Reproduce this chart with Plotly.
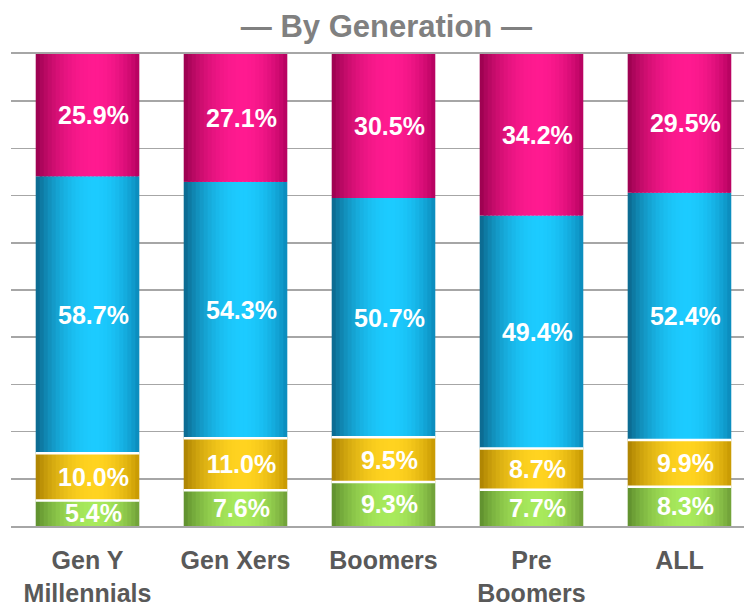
import plotly.graph_objects as go
import numpy as np

categories = ["Gen Y<br>Millennials", "Gen Xers", "Boomers", "Pre<br>Boomers", "ALL"]
green = [5.4, 7.6, 9.3, 7.7, 8.3]
yellow = [10.0, 11.0, 9.5, 8.7, 9.9]
blue = [58.7, 54.3, 50.7, 49.4, 52.4]
magenta = [25.9, 27.1, 30.5, 34.2, 29.5]

series = [
    ("green", green, "#5b8a2b", "#a8ea5c", "#6c9a35"),
    ("yellow", yellow, "#a87e00", "#ffd320", "#c39400"),
    ("blue", blue, "#0a6288", "#1ccbff", "#0a86b6"),
    ("magenta", magenta, "#95004c", "#ff1a90", "#b0005c"),
]

def hex2rgb(h):
    h = h.lstrip("#")
    return np.array([int(h[i:i + 2], 16) for i in (0, 2, 4)], dtype=float)

def mix(a, b, f):
    c = a + (b - a) * f
    return "rgb(%d,%d,%d)" % tuple(np.clip(np.round(c), 0, 255))

x = list(range(len(categories)))
W = 0.7
N = 26
step = W / N
peak = 0.57
text_shift = 0.04

fig = go.Figure()
base = np.zeros(len(categories))
bases = []
for name, vals, darkL, light, darkR in series:
    vals = np.array(vals)
    dL, lt, dR = hex2rgb(darkL), hex2rgb(light), hex2rgb(darkR)
    for i in range(N):
        t = (i + 0.5) / N
        if t < peak:
            d = (peak - t) / peak
            edge = dL
        else:
            d = (t - peak) / (1 - peak)
            edge = dR
        f = np.cos(d * np.pi / 2) ** 0.8
        col = mix(edge, lt, f)
        off = -W / 2 + i * step
        wid = min(step * 1.7, W / 2 - off)
        fig.add_trace(go.Bar(
            x=x, y=vals, base=base, width=wid, offset=off,
            marker=dict(color=col, line=dict(width=0)),
            showlegend=False, hoverinfo="skip",
        ))
    bases.append(base.copy())
    base = base + vals

# value labels
for (name, vals, *_), b in zip(series, bases):
    fig.add_trace(go.Bar(
        x=x, y=vals, base=b, width=W, offset=-W / 2 + text_shift,
        marker=dict(color="rgba(0,0,0,0)", line=dict(width=0)),
        text=["%.1f%%" % v for v in vals],
        textposition="inside", insidetextanchor="middle", textangle=0,
        constraintext="none",
        textfont=dict(family="Liberation Sans, Arial, sans-serif", size=25,
                      color="white", weight="bold"),
        showlegend=False, hoverinfo="skip",
    ))

# separation gaps around the yellow band
cum_g = np.array(green)
cum_gy = cum_g + np.array(yellow)
for i in x:
    for yv in (cum_g[i], cum_gy[i]):
        fig.add_shape(type="line", xref="x", yref="y",
                      x0=i - W / 2, x1=i + W / 2, y0=yv, y1=yv,
                      line=dict(color="white", width=2.5))

fig.update_layout(
    width=744, height=606,
    barmode="overlay",
    paper_bgcolor="white", plot_bgcolor="white",
    margin=dict(l=11, r=0, t=54, b=80),
    title=dict(
        text="— By Generation —",
        x=381 / 744, xref="paper", xanchor="center",
        y=1 - 26 / 606, yref="container", yanchor="middle",
        font=dict(family="Liberation Sans, Arial, sans-serif",
                  size=31, color="#808080", weight="bold"),
    ),
    xaxis=dict(
        tickvals=x, ticktext=categories,
        range=[-0.517, 4.436],
        showgrid=False, showline=True, linecolor="#a6a6a6", linewidth=2, mirror=True,
        ticks="", ticklabelstandoff=11, automargin=False,
        tickfont=dict(family="Liberation Sans, Arial, sans-serif", size=25,
                      color="#595959", weight="bold"),
        fixedrange=True,
    ),
    yaxis=dict(
        range=[0, 100], dtick=10, showticklabels=False,
        showgrid=True, gridcolor="#a6a6a6", gridwidth=1.5,
        zeroline=False, showline=False, ticks="",
        fixedrange=True,
    ),
)

fig.write_html("out.html", config={"displayModeBar": False, "staticPlot": True},
               post_script="document.body.style.margin='0';")
